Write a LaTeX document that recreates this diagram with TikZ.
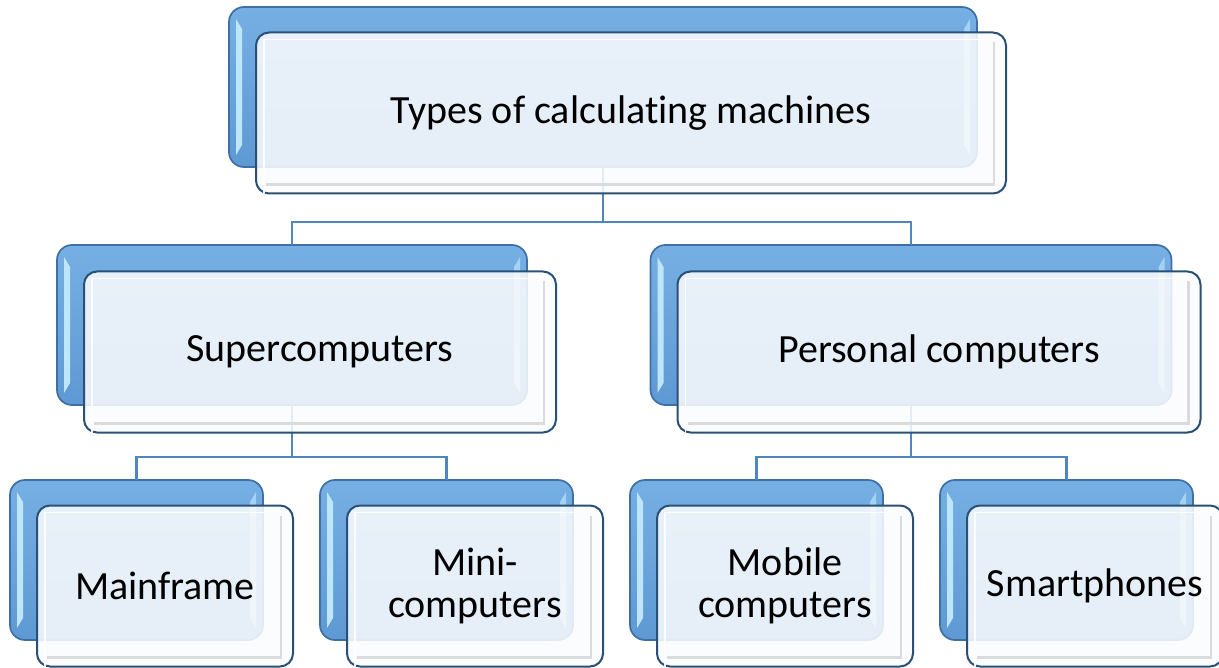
\documentclass[tikz,border=0pt]{standalone}
\usepackage{fontspec}
\setmainfont{Carlito}[Ligatures=NoCommon]

\definecolor{backtop}{HTML}{76AFE3}
\definecolor{backbot}{HTML}{5F99D3}
\definecolor{backedge}{HTML}{3E70A6}
\definecolor{bevelL}{HTML}{BDE6FA}
\definecolor{bevelR}{HTML}{A2D3F4}
\definecolor{frontfill}{HTML}{FAFBFD}
\definecolor{frontedge}{HTML}{2B5075}
\definecolor{linkblue}{HTML}{4F86C0}

\tikzset{
  backbox/.style={draw=backedge, line width=1.7pt, top color=backtop,
    bottom color=backbot, rounded corners=15pt, minimum width=#1,
    minimum height=160pt, inner sep=0pt, outer sep=0pt},
  frontbox/.style={draw=frontedge, line width=2pt, fill=frontfill,
    fill opacity=0.87, text opacity=1, rounded corners=13pt,
    minimum width=#1, minimum height=161pt, inner sep=0pt, outer sep=0pt,
    align=center, font=\fontsize{40}{42}\selectfont},
  link/.style={draw=linkblue, line width=2.2pt},
  bevelshade/.style={draw=black!14, line width=2.6pt, line join=miter},
  bevellight/.style={draw=white, line width=1.6pt, opacity=0.9}
}

% light side strips on the blue back plates
\newcommand\bkbevel[1]{%
  \fill[bevelL] ([xshift=7pt,yshift=-12pt]#1.north west)
    -- ([xshift=13pt,yshift=-22pt]#1.north west)
    -- ([xshift=13pt,yshift=22pt]#1.south west)
    -- ([xshift=7pt,yshift=12pt]#1.south west) -- cycle;
  \fill[bevelR] ([xshift=-7pt,yshift=-12pt]#1.north east)
    -- ([xshift=-13pt,yshift=-22pt]#1.north east)
    -- ([xshift=-13pt,yshift=22pt]#1.south east)
    -- ([xshift=-7pt,yshift=12pt]#1.south east) -- cycle;
}
% inner frame of the pale front plates
\newcommand\frbevel[1]{%
  \draw[bevelshade] ([xshift=-12pt,yshift=-10pt]#1.north east)
    -- ([xshift=-12pt,yshift=9pt]#1.south east)
    -- ([xshift=10pt,yshift=9pt]#1.south west);
  \draw[bevellight] ([xshift=8pt,yshift=-12pt]#1.south west)
    -- ([xshift=8pt,yshift=-7pt]#1.north west)
    -- ([xshift=-12pt,yshift=-7pt]#1.north east);
}

\begin{document}
\begin{tikzpicture}[x=1pt,y=-1pt]
  \useasboundingbox (0,0) rectangle (1219,668);

  % back plates
  \node[backbox=748] (btop) at (603,87) {};
  \node[backbox=470] (bsup) at (292,325) {};
  \node[backbox=521] (bper) at (911,325) {};
  \node[backbox=253] (bmain) at (136.5,560) {};
  \node[backbox=253] (bmini) at (446.5,560) {};
  \node[backbox=253] (bmob) at (756.5,560) {};
  \node[backbox=253] (bsmart) at (1066.5,560) {};
  \foreach \n in {btop,bsup,bper,bmain,bmini,bmob,bsmart}{\bkbevel{\n}}

  % tree connectors
  \coordinate (jtop) at (603,222);
  \coordinate (jsup) at (292,457);
  \coordinate (jper) at (911,457);
  \draw[link] (btop.south) -- (jtop) -| (bsup.north);
  \draw[link] (jtop) -| (bper.north);
  \draw[link] (bsup.south) -- (jsup) -| (bmain.north);
  \draw[link] (jsup) -| (bmini.north);
  \draw[link] (bper.south) -- (jper) -| (bmob.north);
  \draw[link] (jper) -| (bsmart.north);

  % front plates with labels
  \node[frontbox=750] (ftop) at (631,113) {Types of calculating machines};
  \node[frontbox=472] (fsup) at (320,352) {Supercomputers};
  \node[frontbox=523] (fper) at (939,352) {Personal computers};
  \node[frontbox=256] (fmain) at (165,586) {Mainframe};
  \node[frontbox=256] (fmini) at (475,586) {Mini-\\computers};
  \node[frontbox=256] (fmob) at (785,586) {Mobile\\computers};
  \node[frontbox=256] (fsmart) at (1095,586) {Smartphones};
  \foreach \n in {ftop,fsup,fper,fmain,fmini,fmob,fsmart}{\frbevel{\n}}
\end{tikzpicture}
\end{document}
